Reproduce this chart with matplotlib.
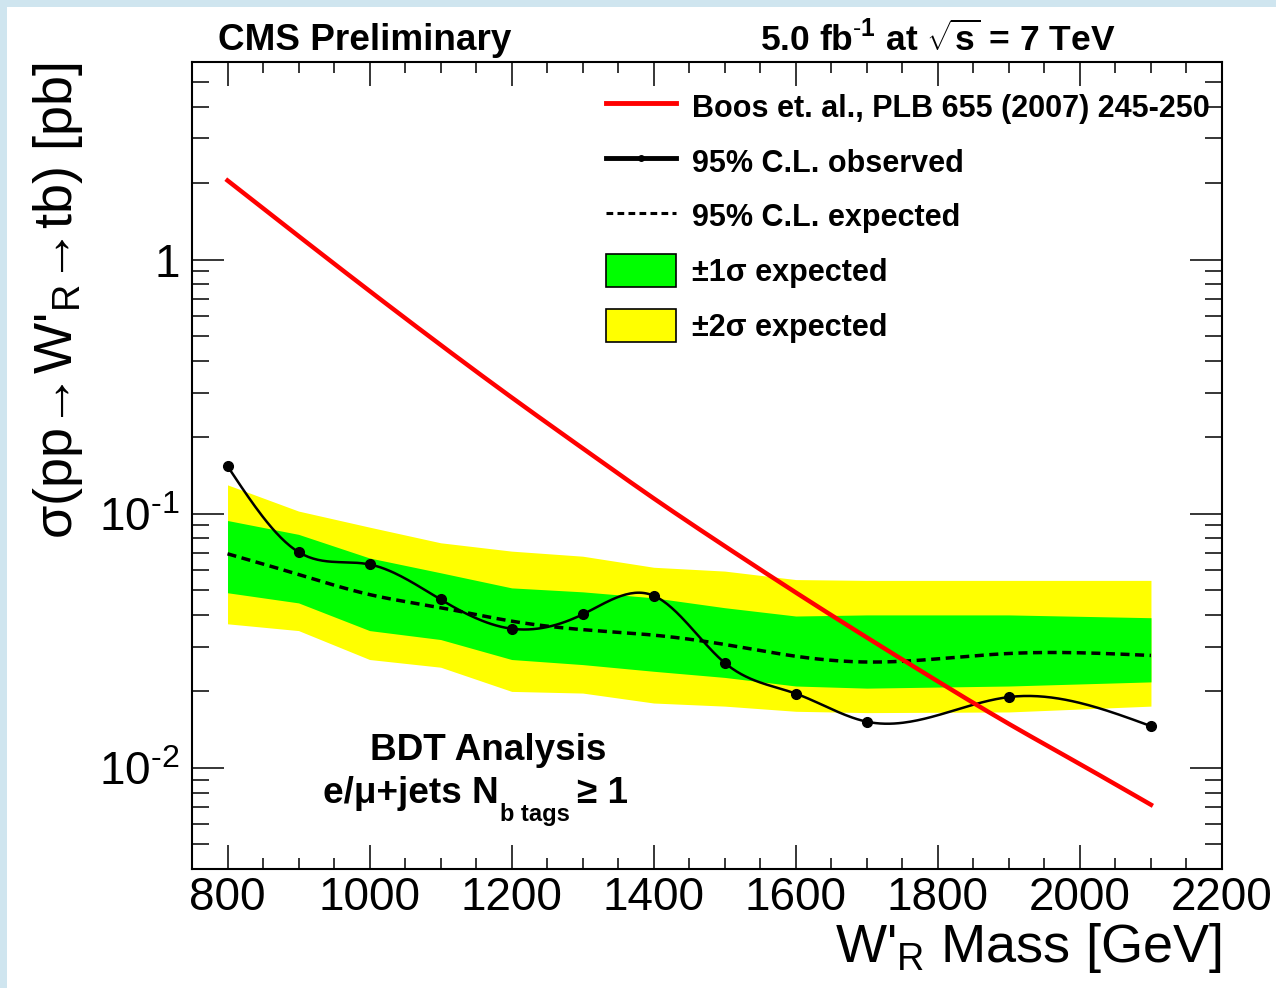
import numpy as np
import matplotlib
matplotlib.use("Agg")
import matplotlib.pyplot as plt
from matplotlib.lines import Line2D
from matplotlib.patches import Patch, Rectangle
from matplotlib.ticker import MultipleLocator, LogLocator, FuncFormatter, NullFormatter

plt.rcParams['font.family'] = ['Liberation Sans', 'DejaVu Sans']
plt.rcParams['mathtext.fontset'] = 'custom'
plt.rcParams['mathtext.rm'] = 'Liberation Sans'
plt.rcParams['mathtext.it'] = 'Liberation Sans:italic'
plt.rcParams['mathtext.bf'] = 'Liberation Sans:bold'

# theory curve (Boos et al.)
theory_mass = [800, 900, 1000, 1100, 1200, 1300, 1400, 1500, 1600, 1700, 1800, 1900, 2000, 2100]
theory_xsec = [2.05, 1.239, 0.753, 0.462, 0.287, 0.181, 0.115, 0.0746, 0.0490, 0.0326,
               0.0219, 0.0149, 0.01035, 0.00716]

# limits
mass = [800, 900, 1000, 1100, 1200, 1300, 1400, 1500, 1600, 1700, 1900, 2100]
observed = [0.154, 0.0707, 0.0632, 0.046, 0.0353, 0.0402, 0.0476, 0.0259, 0.0196, 0.0152, 0.019, 0.0146]
expected = [0.0696, 0.0577, 0.0481, 0.0427, 0.0378, 0.035, 0.0333, 0.0306, 0.0275, 0.0261, 0.0282, 0.0277]
sig1_hi = [0.0941, 0.083, 0.067, 0.0586, 0.0511, 0.0493, 0.0467, 0.0427, 0.0396, 0.040, 0.040, 0.039]
sig1_lo = [0.0489, 0.0446, 0.0347, 0.032, 0.0267, 0.0255, 0.024, 0.0227, 0.021, 0.0206, 0.021, 0.0218]
sig2_hi = [0.130, 0.1025, 0.0886, 0.0769, 0.0713, 0.0681, 0.0616, 0.0595, 0.0551, 0.0547, 0.0547, 0.0547]
sig2_lo = [0.0369, 0.0347, 0.0267, 0.0249, 0.020, 0.0197, 0.018, 0.0175, 0.0167, 0.0165, 0.0166, 0.0175]

legend_labels = ['Boos et. al., PLB 655 (2007) 245-250', '95% C.L. observed',
                 '95% C.L. expected', '\u00b11\u03c3 expected', '\u00b12\u03c3 expected']


def smooth(x, y, n=400):
    # natural cubic spline in log space, like ROOT's "C" draw option
    x = np.asarray(x, float)
    ly = np.log10(y)
    h = np.diff(x)
    m = len(x)
    A = np.zeros((m, m))
    r = np.zeros(m)
    A[0, 0] = A[-1, -1] = 1
    for i in range(1, m - 1):
        A[i, i - 1] = h[i - 1]
        A[i, i] = 2 * (h[i - 1] + h[i])
        A[i, i + 1] = h[i]
        r[i] = 3 * ((ly[i + 1] - ly[i]) / h[i] - (ly[i] - ly[i - 1]) / h[i - 1])
    c = np.linalg.solve(A, r)
    b = (ly[1:] - ly[:-1]) / h - h * (2 * c[:-1] + c[1:]) / 3
    d = (c[1:] - c[:-1]) / (3 * h)
    xs = np.linspace(x[0], x[-1], n)
    idx = np.clip(np.searchsorted(x, xs) - 1, 0, m - 2)
    dx = xs - x[idx]
    return xs, 10 ** (ly[idx] + b[idx] * dx + c[idx] * dx ** 2 + d[idx] * dx ** 3)


W, H = 1276, 988
fig = plt.figure(figsize=(W / 100, H / 100), dpi=100)
fig.patch.set_facecolor('#cfe5ef')
fig.patches.append(Rectangle((7 / W, 0), 1, 1 - 7 / H, transform=fig.transFigure,
                             facecolor='white', edgecolor='none', zorder=-10))

ax = fig.add_axes([192 / W, 1 - 869 / H, 1030 / W, 807 / H])
ax.set_zorder(1)
ax.patch.set_alpha(0)
ax.set_yscale('log')
ax.set_xlim(750, 2200)
ax.set_ylim(0.004, 6)

ax.fill_between(mass, sig2_lo, sig2_hi, color='#ffff00', lw=0, zorder=1)
ax.fill_between(mass, sig1_lo, sig1_hi, color='#00ff00', lw=0, zorder=2)
xe, ye = smooth(mass, expected)
ax.plot(xe, ye, color='black', lw=2.5, ls=(0, (2.6, 1.6)), zorder=3)
xo, yo = smooth(mass, observed)
ax.plot(xo, yo, color='black', lw=1.8, zorder=4)
ax.plot(mass, observed, 'o', color='black', ms=7, zorder=4)
xt, yt = smooth(theory_mass, theory_xsec)
ax.plot(xt, yt, color='#ff0000', lw=3.2, zorder=5)

for s in ax.spines.values():
    s.set_linewidth(1.5)

ax.xaxis.set_major_locator(MultipleLocator(200))
ax.xaxis.set_minor_locator(MultipleLocator(50))
ax.yaxis.set_major_locator(LogLocator(base=10))
ax.yaxis.set_minor_locator(LogLocator(base=10, subs=np.arange(2, 10)))
ax.yaxis.set_minor_formatter(NullFormatter())


def ylab(v, pos):
    e = int(round(np.log10(v)))
    if e == 0:
        return '1'
    return r'10$^{\text{-}%d}$' % (-e)


ax.yaxis.set_major_formatter(FuncFormatter(ylab))
ax.tick_params(axis='both', which='both', direction='in', top=True, right=True, width=1.1)
ax.tick_params(axis='x', which='major', length=17, labelsize=33, pad=5)
ax.tick_params(axis='x', which='minor', length=8)
ax.tick_params(axis='y', which='major', length=23, labelsize=33, pad=9)
ax.tick_params(axis='y', which='minor', length=12)

ax.set_xlabel("W'$_{\\mathregular{R}}$ Mass [GeV]", fontsize=39, loc='right', labelpad=1)
ax.set_ylabel("\u03c3(pp\u2192W'$_{\\mathregular{R}}$\u2192tb) [pb]", fontsize=39, loc='top', labelpad=10)

handles = [Line2D([], [], color='#ff0000', lw=3.5),
           Line2D([], [], color='black', lw=3.5, marker='o', ms=4),
           Line2D([], [], color='black', lw=2.2, ls=(0, (2.2, 1.4))),
           Patch(facecolor='#00ff00', edgecolor='black', lw=1.2),
           Patch(facecolor='#ffff00', edgecolor='black', lw=1.2)]
ax.legend(handles, legend_labels, loc='upper left', bbox_to_anchor=((606 - 192) / 1030, (869 - 90) / 807),
          frameon=False, borderpad=0, borderaxespad=0, handlelength=2.3, handleheight=1.3,
          handletextpad=0.5, labelspacing=0.68, prop={'weight': 'bold', 'size': 22})

fig.text(218 / W, 1 - 40 / H, 'CMS Preliminary', fontsize=26.6, weight='bold', ha='left', va='center')
fig.text(1115 / W, 1 - 40 / H, r'5.0 fb$^{\mathbf{\text{-}1}}$ at $\sqrt{\mathbf{s}}$ = 7 TeV', fontsize=25.5,
         weight='bold', ha='right', va='center')
fig.text(488 / W, 1 - 750 / H, 'BDT Analysis', fontsize=26.6, weight='bold', ha='center', va='center')
fig.text(499 / W, 1 - 803 / H, 'e/\u03bc+jets N', fontsize=26.6, weight='bold', ha='right', va='baseline')
fig.text(500 / W, 1 - 821 / H, 'b tags', fontsize=17, weight='bold', ha='left', va='baseline')
fig.text(628 / W, 1 - 803 / H, '\u2265 1', fontsize=26.6, weight='bold', ha='right', va='baseline')

fig.savefig('out.png', dpi=100, facecolor=fig.get_facecolor())
